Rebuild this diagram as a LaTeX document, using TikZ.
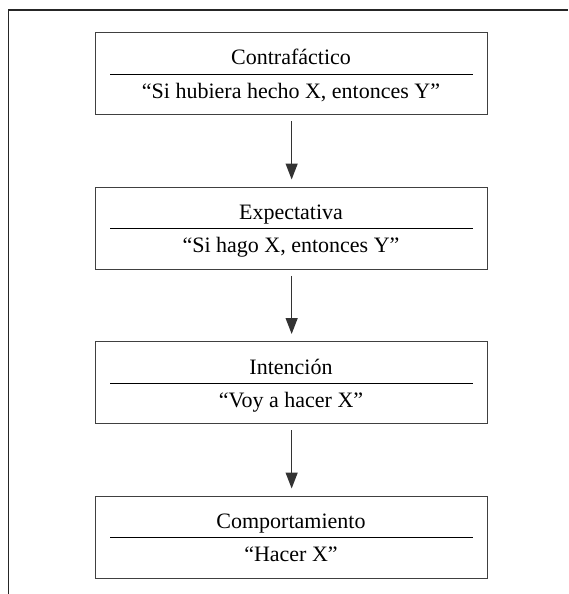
\documentclass[tikz,border=0pt]{standalone}
\usepackage{fontspec}
\setmainfont{Liberation Serif}
\usetikzlibrary{arrows.meta}
\begin{document}
\begin{tikzpicture}[x=1pt,y=1pt,
  stagebox/.style={draw=black!75, line width=1.3pt, minimum width=392pt, minimum height=82pt, inner sep=0pt, anchor=north west},
  stagetext/.style={anchor=base, font=\fontsize{22}{26}\selectfont, inner sep=0pt},
  divider/.style={line width=1pt, draw=black},
  flow/.style={line width=1.3pt, draw=black!80, -{Triangle[width=12pt,length=16pt]}, shorten <=6pt, shorten >=7pt},
  outerframe/.style={line width=1.5pt, draw=black!85}]
\useasboundingbox (0,0) rectangle (568,-594);
\coordinate (fbl) at (8.5,-594);
\coordinate (ftl) at (8.5,-10);
\coordinate (ftr) at (568,-10);
\draw[outerframe] (fbl) -- (ftl) -- (ftr);

\node[stagebox] (b1) at (95,-32) {};
\node[stagetext] (t1) at (291,-65) {Contrafáctico};
\node[stagetext] (q1) at (291,-98) {“Si hubiera hecho X, entonces Y”};
\draw[divider] ([xshift=15pt,yshift=-42pt]b1.north west) -- ([xshift=-15pt,yshift=-42pt]b1.north east);

\node[stagebox] (b2) at (95,-186.5) {};
\node[stagetext] (t2) at (291,-219.5) {Expectativa};
\node[stagetext] (q2) at (291,-252.5) {“Si hago X, entonces Y”};
\draw[divider] ([xshift=15pt,yshift=-42pt]b2.north west) -- ([xshift=-15pt,yshift=-42pt]b2.north east);

\node[stagebox] (b3) at (95,-341) {};
\node[stagetext] (t3) at (291,-374) {Intención};
\node[stagetext] (q3) at (291,-407) {“Voy a hacer X”};
\draw[divider] ([xshift=15pt,yshift=-42pt]b3.north west) -- ([xshift=-15pt,yshift=-42pt]b3.north east);

\node[stagebox] (b4) at (95,-495.5) {};
\node[stagetext] (t4) at (291,-528.5) {Comportamiento};
\node[stagetext] (q4) at (291,-561.5) {“Hacer X”};
\draw[divider] ([xshift=15pt,yshift=-42pt]b4.north west) -- ([xshift=-15pt,yshift=-42pt]b4.north east);

\draw[flow] (b1.south) -- (b2.north);
\draw[flow] (b2.south) -- (b3.north);
\draw[flow] (b3.south) -- (b4.north);
\end{tikzpicture}
\end{document}
